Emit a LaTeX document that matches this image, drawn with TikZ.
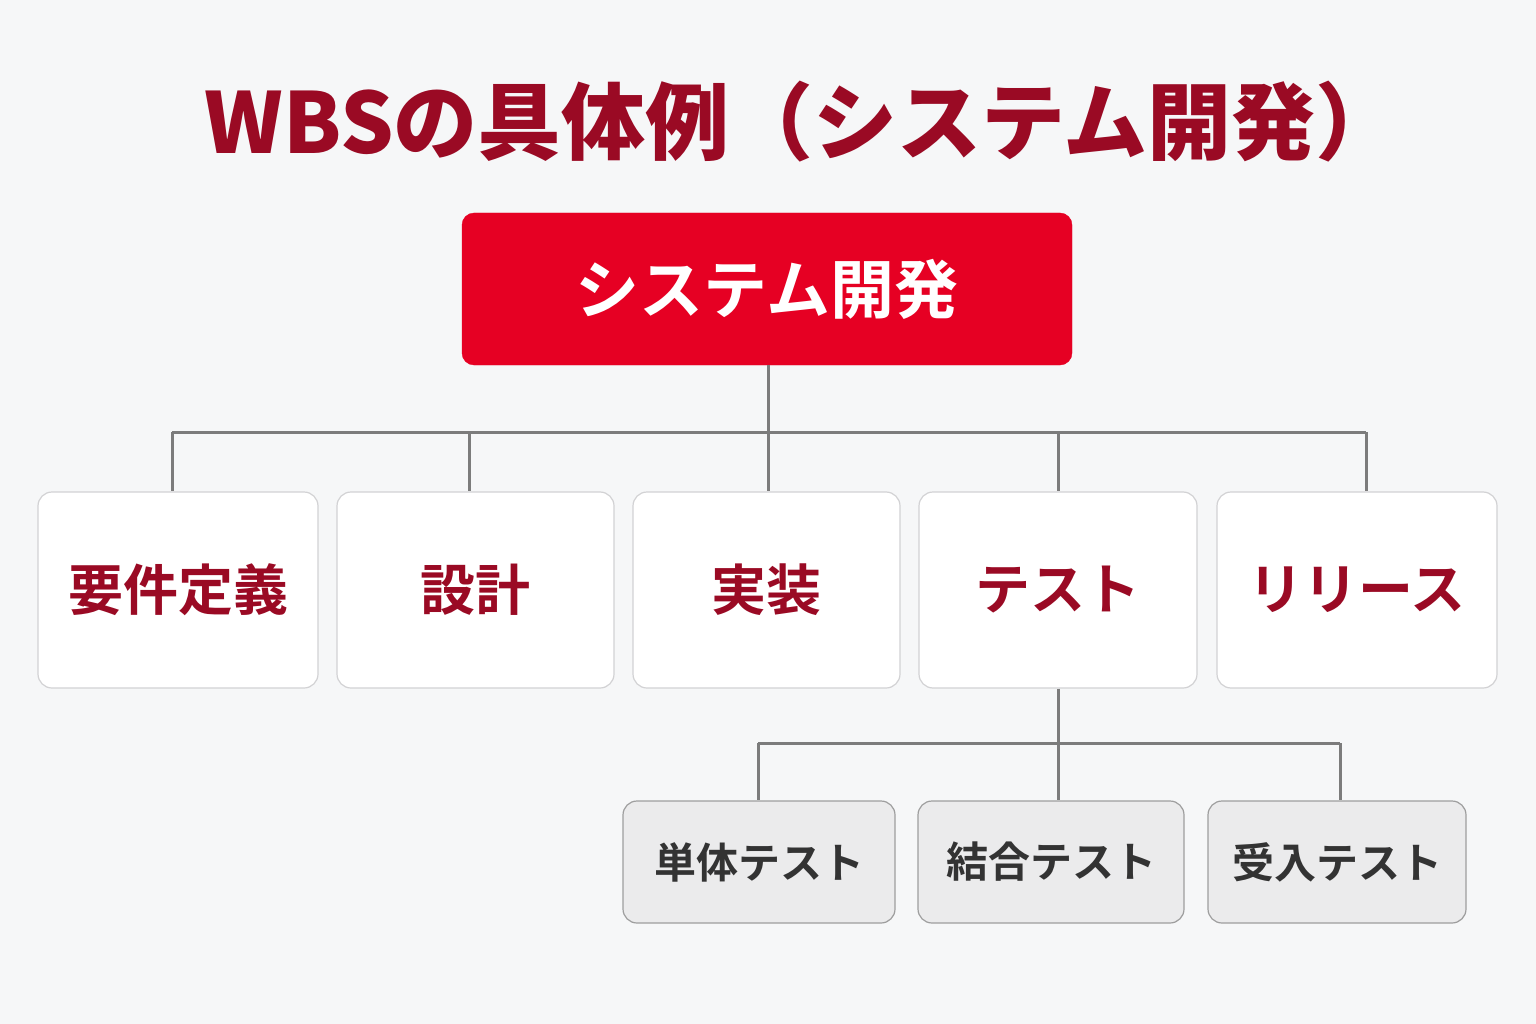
\documentclass[tikz,border=0pt]{standalone}
\usepackage{fontspec}
\setmainfont{Noto Sans CJK JP}[BoldFont={Noto Sans CJK JP Bold}]
\newfontfamily\titlefont{Noto Sans CJK JP Black}
\definecolor{bgc}{HTML}{F6F7F8}
\definecolor{titlered}{HTML}{9A0A24}
\definecolor{topred}{HTML}{E60023}
\definecolor{lvltext}{HTML}{9A0A24}
\definecolor{lineg}{HTML}{7C7C7C}
\definecolor{lvlborder}{HTML}{D2D2D4}
\definecolor{subfill}{HTML}{EBEBEC}
\definecolor{subborder}{HTML}{9E9E9E}
\definecolor{subtext}{HTML}{333333}
\begin{document}
\begin{tikzpicture}[x=1pt,y=-1pt,
  topbox/.style={fill=topred, draw=topred, rounded corners=12pt, minimum width=610pt, minimum height=152pt, text=white, font=\bfseries\fontsize{64}{70}\selectfont, inner sep=0pt},
  lvlbox/.style={fill=white, draw=lvlborder, line width=1.2pt, rounded corners=14pt, minimum height=196pt, text=lvltext, font=\bfseries\fontsize{55}{60}\selectfont, inner sep=0pt},
  subbox/.style={fill=subfill, draw=subborder, line width=1.2pt, rounded corners=14pt, minimum height=122pt, text=subtext, font=\bfseries\fontsize{42}{48}\selectfont, inner sep=0pt},
  conn/.style={draw=lineg, line width=3pt}]
\fill[bgc] (0,0) rectangle (1536,1024);
\useasboundingbox (0,0) rectangle (1536,1024);
\node[text=titlered, font=\titlefont\fontsize{84}{92}\selectfont, inner sep=0pt] (title) at (802,122) {WBSの具体例（システム開発）};
\node[topbox] (top) at (767,289) {システム開発};
\node[lvlbox, minimum width=280pt] (a) at (178,590) {要件定義};
\node[lvlbox, minimum width=277pt] (b) at (475.5,590) {設計};
\node[lvlbox, minimum width=267pt] (c) at (766.5,590) {実装};
\node[lvlbox, minimum width=278pt] (d) at (1058,590) {テスト};
\node[lvlbox, minimum width=280pt] (e) at (1357,590) {リリース};
\node[subbox, minimum width=272pt] (s1) at (759,862) {単体テスト};
\node[subbox, minimum width=266pt] (s2) at (1051,862) {結合テスト};
\node[subbox, minimum width=258pt] (s3) at (1337,862) {受入テスト};
\coordinate (bus) at (768,432);
\coordinate (bl) at (172,432);
\coordinate (br) at (1366,432);
\draw[conn] (top.south -| bus) -- (bus);
\draw[conn] (bl) -- (br);
\draw[conn] (bl) -- (bl |- a.north);
\draw[conn] (469,432) coordinate (xb) -- (xb |- b.north);
\draw[conn] (bus) -- (bus |- c.north);
\draw[conn] (1058,432) coordinate (xd) -- (xd |- d.north);
\draw[conn] (br) -- (br |- e.north);
\coordinate (sbus) at (1058,743);
\coordinate (sl) at (758,743);
\coordinate (sr) at (1340,743);
\draw[conn] (d.south -| sbus) -- (sbus);
\draw[conn] (sl) -- (sr);
\draw[conn] (sl) -- (sl |- s1.north);
\draw[conn] (sbus) -- (sbus |- s2.north);
\draw[conn] (sr) -- (sr |- s3.north);
\end{tikzpicture}
\end{document}
